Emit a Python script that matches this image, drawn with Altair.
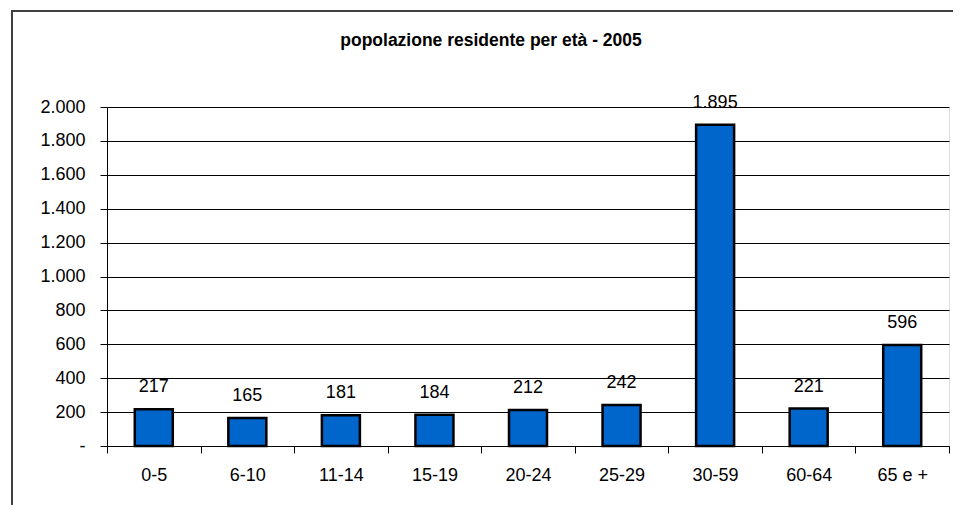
import altair as alt
import pandas as pd

categories = ["0-5", "6-10", "11-14", "15-19", "20-24", "25-29", "30-59", "60-64", "65 e +"]
values = [217, 165, 181, 184, 212, 242, 1895, 221, 596]
y_ticks = [0, 200, 400, 600, 800, 1000, 1200, 1400, 1600, 1800, 2000]
title_text = ["popolazione residente per età - 2005"]

df = pd.DataFrame({"cat": categories, "val": values})
FONT = "Liberation Sans"

W, H = 842, 339

x_enc = alt.X("cat:N", sort=categories, title=None,
              scale=alt.Scale(paddingInner=0, paddingOuter=0),
              axis=alt.Axis(labelAngle=0, labelFont=FONT, labelFontSize=18, labelColor="#000",
                            labelPadding=13, tickBand="extent", tickSize=7, tickColor="#000",
                            domainColor="#000", domainWidth=1, grid=False, labelOverlap=False))
y_enc = alt.Y("val:Q", title=None,
              scale=alt.Scale(domain=[0, 2000], nice=False),
              axis=alt.Axis(values=y_ticks, labelFont=FONT, labelFontSize=18, labelColor="#000",
                            labelExpr="datum.value == 0 ? '-' : replace(format(datum.value, ','), ',', '.')",
                            tickSize=7, tickColor="#000", labelPadding=15, labelOverlap=False,
                            labelFlush=False,
                            domainColor="#000", grid=True, gridColor="#000", gridWidth=1, gridOpacity=1))

base = alt.Chart(df).transform_calculate(
    lab="replace(format(datum.val, ','), ',', '.')"
).encode(x=x_enc, y=y_enc)

bars = base.mark_bar(size=38, color="#0066CC", stroke="#000", strokeWidth=2.5)

labels = base.mark_text(font=FONT, fontSize=18, color="#000", baseline="alphabetic", dy=-17).encode(
    text="lab:N"
)

title = alt.Chart(pd.DataFrame({"t": title_text})).mark_text(
    font=FONT, fontSize=17.5, fontWeight="bold", color="#000", baseline="alphabetic", align="center"
).encode(x=alt.value(491 - 107), y=alt.value(46 - 107), text="t:N")

frame = alt.Chart(pd.DataFrame({"t": title_text})).mark_rect(
    fill=None, stroke="#404040", strokeWidth=2
).encode(x=alt.value(12 - 107), y=alt.value(11 - 107), x2=alt.value(1200), y2=alt.value(800))

chart = alt.layer(frame, bars, labels, title).properties(
    width=W, height=H,
    padding={"left": 99, "top": 99, "right": 4, "bottom": 59},
    autosize=alt.AutoSizeParams(type="none"),
).configure_view(strokeWidth=0).configure(background="white")

chart.save("out.html", embed_options={"renderer": "svg", "actions": False})
